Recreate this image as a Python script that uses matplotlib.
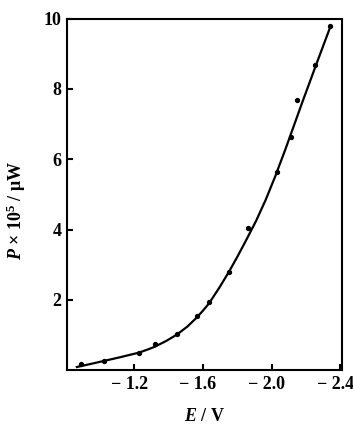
import matplotlib
matplotlib.use("Agg")
import matplotlib.pyplot as plt
from matplotlib.transforms import ScaledTranslation

# measured points (E in V, P in 1e-5 uW)
point_e = [-0.89, -1.022, -1.229, -1.322, -1.448, -1.565, -1.636, -1.752,
           -1.861, -2.033, -2.111, -2.149, -2.252, -2.340]
point_p = [0.17, 0.26, 0.50, 0.74, 1.02, 1.55, 1.95, 2.80,
           4.04, 5.63, 6.62, 7.69, 8.67, 9.78]

# smooth curve
curve_e = [-0.867, -0.95, -1.022, -1.12, -1.229, -1.28, -1.322, -1.39, -1.448,
           -1.51, -1.565, -1.60, -1.636, -1.70, -1.752, -1.80, -1.85, -1.91,
           -1.966, -2.02, -2.08, -2.18, -2.26, -2.344]
curve_p = [0.09, 0.18, 0.26, 0.37, 0.50, 0.59, 0.67, 0.84, 1.01,
           1.24, 1.50, 1.69, 1.90, 2.38, 2.80, 3.22, 3.68, 4.25,
           4.85, 5.50, 6.28, 7.64, 8.70, 9.80]

x_ticks = [-1.2, -1.6, -2.0, -2.4]
x_labels = ["\u2212 1.2", "\u2212 1.6", "\u2212 2.0", "\u2212 2.4"]
y_ticks = [2, 4, 6, 8, 10]
y_labels = ["2", "4", "6", "8", "10"]

plt.rcParams['font.family'] = ['Liberation Serif', 'DejaVu Serif']
plt.rcParams['mathtext.fontset'] = 'custom'
plt.rcParams['mathtext.it'] = 'Liberation Serif:italic:bold'
plt.rcParams['mathtext.rm'] = 'Liberation Serif:bold'

fig = plt.figure(figsize=(3.53, 4.25), dpi=100)
ax = fig.add_axes([0.190, 0.129, 0.779, 0.827])

ax.plot(curve_e, curve_p, color='black', lw=1.6)
ax.plot(point_e, point_p, 'o', color='black', ms=2.8)

ax.set_xlim(-0.81, -2.41)
ax.set_ylim(0, 10)

ax.set_xticks(x_ticks)
ax.set_xticklabels(x_labels, fontsize=13, fontweight='bold')
ax.set_yticks(y_ticks)
ax.set_yticklabels(y_labels, fontsize=13, fontweight='bold')
ax.tick_params(direction='in', length=4, width=1.5, pad=4)

# labels sit a little left of their ticks in the original
shift = ScaledTranslation(-5 / 100, 0, fig.dpi_scale_trans)
for lab in ax.get_xticklabels():
    lab.set_transform(lab.get_transform() + shift)

for s in ax.spines.values():
    s.set_linewidth(1.5)

ax.set_xlabel(r'$E$ / V', fontsize=13, fontweight='bold', labelpad=11)
ax.set_ylabel(r'$P$ × 10$^5$ / μW', fontsize=13, fontweight='bold')
ax.yaxis.set_label_coords(-0.142, 0.455)

plt.savefig("out.png", dpi=100)
